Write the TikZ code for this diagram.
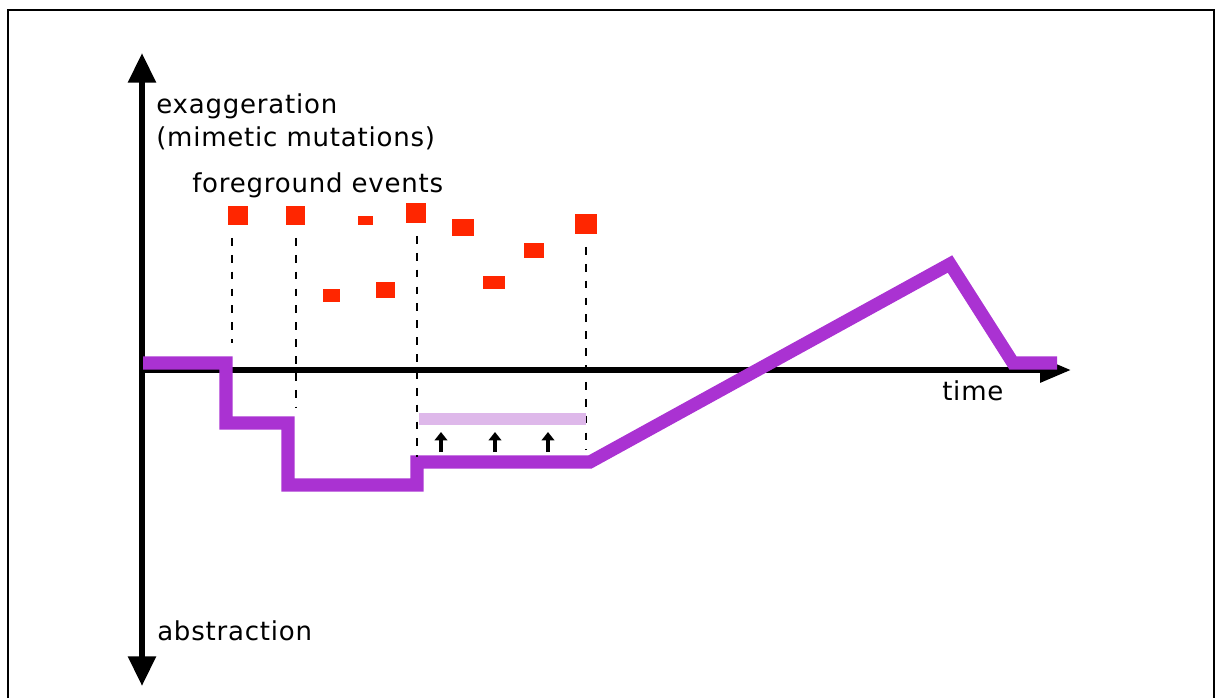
\documentclass[tikz,border=0pt]{standalone}
\usepackage{fontspec}
\setmainfont{DejaVu Sans}[LetterSpace=3]
\usetikzlibrary{arrows.meta}
\definecolor{evred}{RGB}{255,38,0}
\definecolor{purp}{RGB}{170,50,210}
\definecolor{lilac}{RGB}{222,184,234}
\def\pxu{0.7114pt}

\begin{document}
\begin{tikzpicture}[x=0.025cm,y=-0.025cm]
  \tikzset{ ev/.style={rectangle,fill=evred,inner sep=0pt},
    lab/.style={anchor=base west,inner sep=0pt,font=\fontsize{18.5}{22}\selectfont},
    axis/.style={line width=4.3pt},
    evline/.style={line width=2pt,dash pattern=on 5.5pt off 6.5pt,shorten <=9pt},
    trail/.style={purp,line width=9.3pt,line join=miter},
    pale/.style={lilac,line width=8.8pt},
    push/.style={line width=2.6pt,-{Triangle[length=6pt,width=9pt]}},
  }
  \useasboundingbox (0,0) rectangle (1216,698);
  \draw[line width=2pt] (8,698) -- (8,10) -- (1214,10) -- (1214,698);

  % axes
  \coordinate (top) at (142,53);
  \coordinate (bot) at (142,686);
  \coordinate (o) at (142,370);
  \coordinate (tip) at (1071,370);
  \draw[axis,{Triangle[length=21pt,width=19pt]}-{Triangle[length=21pt,width=19pt]}] (top) -- (bot);
  \draw[axis,-{Triangle[length=22pt,width=17pt]}] (o) -- (tip);

  \node[lab] (up) at (156,113) {exaggeration};
  \node[lab] (mim) at (156,146) {(mimetic mutations)};
  \node[lab] (fg) at (192,192) {foreground events};
  \node[lab] (down) at (157,640) {abstraction};
  \node[lab] (t) at (942,400) {time};

  % foreground events
  \node[ev,minimum width=20*\pxu,minimum height=19*\pxu] (e1) at (238,215.5) {};
  \node[ev,minimum width=19*\pxu,minimum height=19*\pxu] (e2) at (295.5,215.5) {};
  \node[ev,minimum width=15*\pxu,minimum height=9*\pxu] (e3) at (365.5,220.5) {};
  \node[ev,minimum width=20*\pxu,minimum height=20*\pxu] (e4) at (416,213) {};
  \node[ev,minimum width=22*\pxu,minimum height=17*\pxu] (e5) at (463,227.5) {};
  \node[ev,minimum width=22*\pxu,minimum height=20*\pxu] (e6) at (586,224) {};
  \node[ev,minimum width=17*\pxu,minimum height=13*\pxu] (e7) at (331.5,295.5) {};
  \node[ev,minimum width=19*\pxu,minimum height=16*\pxu] (e8) at (385.5,290) {};
  \node[ev,minimum width=22*\pxu,minimum height=13*\pxu] (e9) at (494,282.5) {};
  \node[ev,minimum width=20*\pxu,minimum height=15*\pxu] (e10) at (534,250.5) {};

  % the background trail
  \draw[trail] (143,363) -- (226,363) -- (226,423) -- (288,423) -- (288,485)
    -- (417,485) -- (417,462) -- (590,462) -- (950,264) -- (1013,363) -- (1057,363);

  % drops from the events
  \coordinate (d1) at (232,343);
  \coordinate (d2) at (296,407);
  \coordinate (d3) at (417,457);
  \coordinate (d4) at (586,450);
  \draw[evline] (d1 |- e1.south) -- (d1);
  \draw[evline] (d2 |- e2.south) -- (d2);
  \draw[evline] (d3 |- e4.south) -- (d3);
  \draw[evline] (d4 |- e6.south) -- (d4);

  \draw[pale] (419,419) -- (586,419);
  \foreach \x in {441,495,548}
    \draw[push] (\x,452) -- (\x,432);
\end{tikzpicture}
\end{document}
